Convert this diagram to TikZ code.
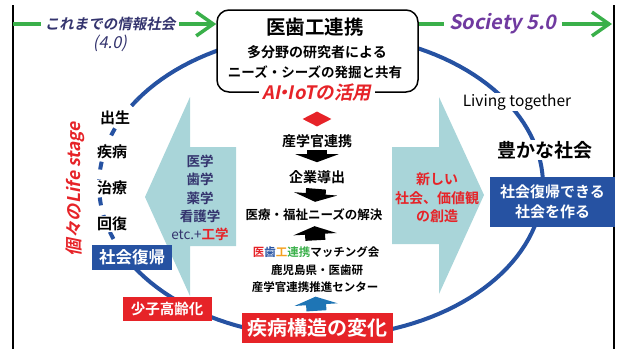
\documentclass[tikz,border=0pt]{standalone}
\usepackage{fontspec}
\setmainfont{Noto Sans CJK JP}[BoldFont={Noto Sans CJK JP Bold}]
\newfontfamily\slantfont{Noto Sans CJK JP}[FakeSlant=0.2,BoldFont={Noto Sans CJK JP Bold},BoldFeatures={FakeSlant=0.2}]
\usetikzlibrary{arrows.meta,shapes.geometric}

\definecolor{tealfill}{RGB}{169,213,217}
\definecolor{arcblue}{RGB}{38,82,162}
\definecolor{boxred}{RGB}{230,35,40}
\definecolor{navytxt}{RGB}{52,52,110}
\definecolor{socpurple}{RGB}{112,58,160}
\definecolor{grn}{RGB}{58,176,74}
\definecolor{orng}{RGB}{245,160,30}

\newcommand\fsz[1]{\fontsize{#1}{#1}\selectfont}

\tikzset{
  txt/.style={inner sep=1pt, align=center},
  whtxt/.style={txt, fill=white},
  bluebox/.style={fill=arcblue, text=white, inner sep=0pt, align=center},
  redbox/.style={fill=boxred, text=white, inner sep=0pt},
  grnline/.style={grn, line width=3.5pt},
  grnarrow/.style={grnline, -{Straight Barb[scale length=2, scale width=1.4]}},
  blkarrow/.style={line width=20pt, -{Triangle[length=8pt,width=43pt]}},
  bigarrow/.style={fill=tealfill},
  ring/.style={arcblue, line width=4pt},
}

\begin{document}
\begin{tikzpicture}[x=1pt,y=-1pt]
    \useasboundingbox (0,0) rectangle (626,349);

    % Frame
    \draw[line width=2pt] (13,5) -- (13,349);
    \draw[line width=2pt] (614,5) -- (614,349);

    % Big arrows
    \fill[bigarrow] (145,197) -- (190,97) -- (190,147) -- (236,147) -- (236,246) -- (190,246) -- (190,296) -- cycle;
    \fill[bigarrow] (484,195) -- (439,97) -- (439,147) -- (392,147) -- (392,244) -- (439,244) -- (439,294) -- cycle;

    % Ring
    \draw[ring] plot[domain=146:-150, samples=120] ({321+222*cos(\x)}, {185-152*sin(\x)});
    \draw[ring, dash pattern=on 8pt off 10pt] plot[domain=146:210, samples=40] ({321+222*cos(\x)}, {185-152*sin(\x)});

    % Hub box
    \node[draw, line width=1.5pt, rounded corners=12pt, fill=white, minimum width=201pt, minimum height=82pt] (hub) at (317.5,51) {};
    \node[txt, font=\bfseries\fsz{19.5}] (title) at (315,27) {医歯工連携};
    \node[txt, font=\bfseries\fsz{14}] (hubone) at (317,52) {多分野の研究者による};
    \node[txt, font=\bfseries\fsz{13.5}] (hubtwo) at (315,72) {ニーズ・シーズの発掘と共有};
    \node[whtxt, inner sep=4pt, text=boxred, font=\slantfont\bfseries\fsz{18.5}] (aiiot) at (317,93) {AI\kern-.3em・\kern-.3em IoTの活用};

    % Information society
    \coordinate (lstart) at (13,24);
    \coordinate (rend) at (612,24);
    \node[txt, inner sep=4pt, text=navytxt, font=\slantfont\bfseries\fsz{14.5}] (oldsoc) at (110,24) {これまでの情報社会};
    \node[txt, text=navytxt, font=\slantfont\fsz{16.5}] (oldver) at (110,43) {(4.0)};
    \node[txt, inner sep=5pt, text=socpurple, font=\slantfont\bfseries\fsz{20}] (newsoc) at (503,24) {Society 5.0};
    \draw[grnline] (lstart) -- (oldsoc);
    \draw[grnarrow] (oldsoc) -- (oldsoc -| hub.west);
    \draw[grnline] (newsoc -| hub.east) -- (newsoc);
    \draw[grnarrow] (newsoc) -- (rend);

    % Right side
    \node[whtxt, font=\fsz{15.5}] (living) at (517,102) {Living together};
    \node[whtxt, font=\bfseries\fsz{19}] (rich) at (545,150) {豊かな社会};
    \node[bluebox, minimum width=125pt, minimum height=50pt, font=\bfseries\fontsize{15}{20}\selectfont] (recbox) at (552.5,202) {社会復帰できる\\社会を作る};

    % Life stage
    \node[txt, rotate=90, text=boxred, font=\slantfont\bfseries\fsz{17.5}] (lifestage) at (75,189) {個々のLife stage};
    \node[whtxt, font=\bfseries\fsz{15}] (birth) at (115,118) {出生};
    \node[whtxt, font=\bfseries\fsz{15}] (ill) at (112,152) {疾病};
    \node[whtxt, font=\bfseries\fsz{15}] (treat) at (112,188) {治療};
    \node[whtxt, font=\bfseries\fsz{15}] (recov) at (112,224) {回復};
    \node[bluebox, minimum width=80pt, minimum height=25pt, font=\bfseries\fsz{16.5}] (socret) at (132,257) {社会復帰};
    \node[redbox, minimum width=89pt, minimum height=24pt, font=\bfseries\fsz{14.5}] (aging) at (167,309) {少子高齢化};
    \node[redbox, minimum width=151pt, minimum height=30pt, font=\bfseries\fsz{20}] (change) at (317.5,328) {疾病構造の変化};

    % Fields
    \node[txt, text=navytxt, font=\bfseries\fontsize{13.5}{18.3}\selectfont] (fields) at (200,198)
        {医学\\歯学\\薬学\\看護学\\{\mdseries etc.+}\textcolor{boxred}{工学}};
    \node[txt, text=boxred, font=\bfseries\fontsize{14}{18.5}\selectfont] (newval) at (437,198)
        {新しい\\社会、価値観\\の創造};

    % Center column
    \node[diamond, fill=boxred, inner sep=0pt, minimum width=29pt, minimum height=15pt] (aimark) at (317,119) {};
    \node[txt, font=\bfseries\fsz{14}] (coop) at (317,141) {産学官連携};
    \node[txt, font=\bfseries\fsz{14}] (deriv) at (317,177) {企業導出};
    \node[txt, font=\bfseries\fsz{12.5}] (solve) at (314,215) {医療・福祉ニーズの解決};
    \node[txt, font=\bfseries\fsz{11.5}] (match) at (316,252)
        {\textcolor{boxred}{医}\textcolor{arcblue}{歯}\textcolor{orng}{工}\textcolor{grn}{連携}マッチング会};
    \node[txt, font=\bfseries\fsz{11.5}] (kago) at (317,270) {鹿児島県・医歯研};
    \node[txt, font=\bfseries\fsz{11.5}] (center) at (315,287) {産学官連携推進センター};

    \draw[blkarrow, shorten <=1pt, shorten >=7pt] (coop) -- (deriv);
    \draw[blkarrow, shorten <=4pt, shorten >=6pt] (deriv) -- (solve);
    \draw[blkarrow, shorten <=5pt, shorten >=4pt] (match) -- (solve);
    \draw[blkarrow, arcblue!80!cyan, shorten <=2pt, shorten >=3pt] (change) -- (center);
\end{tikzpicture}
\end{document}
